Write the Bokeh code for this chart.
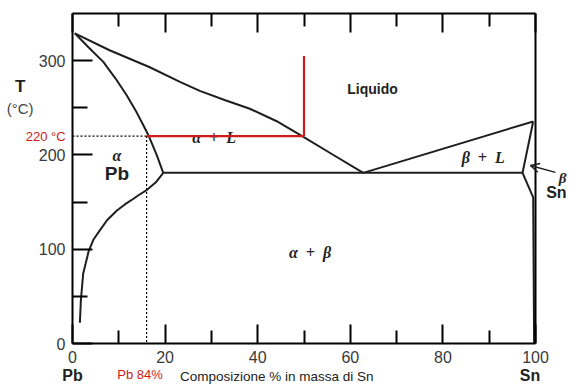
from bokeh.plotting import figure
from bokeh.models import LinearAxis, FixedTicker, Arrow, OpenHead, Range1d
from bokeh.core.properties import value
from bokeh.embed import file_html
from bokeh.resources import INLINE

# ---- data (composition in wt% Sn, temperature in °C) ----
liq_left_x = [0.5, 8, 16.7, 23.2, 27.5, 33, 38.3, 44, 49.6, 56, 62.8]
liq_left_t = [329, 311, 293, 277.5, 268, 258, 249, 236, 220, 201, 181]

sol_left_x = [0.5, 3.5, 6.65, 9.3, 11.7, 13.6, 15.3, 16.4, 18.2, 19.6]
sol_left_t = [329, 314, 298.7, 281, 263.3, 247.5, 231.5, 220.9, 199.7, 181]

solvus_left_x = [1.6, 1.8, 2.3, 3.5, 4.5, 5.9, 7.5, 9.6, 11.3, 13, 14.5, 16.1, 18, 19.6]
solvus_left_t = [22, 45, 74, 98, 110, 120, 131, 141, 147.5, 153, 158, 163, 171, 181]

eut_x = [19.6, 97.2]
eut_t = [181, 181]

liq_right_x = [62.8, 99.5]
liq_right_t = [181, 235.5]

sol_right_x = [99.5, 97.2]
sol_right_t = [235.5, 181]

solvus_right_x = [97.2, 99.5, 99.7]
solvus_right_t = [181, 155, 0]

alloy_x = 16          # Pb 84% -> 16% Sn
tie_t = 220           # 220 °C
liquid_x = 50         # liquid composition at 220 °C
red_top_t = 305

x_min, x_max = 0, 100
t_min, t_max = 0, 350
x_ticks = [0, 20, 40, 60, 80, 100]
x_minor = [10, 30, 50, 70, 90]
y_ticks = [0, 100, 200, 300]
y_minor = [50, 150, 250]

CURVE = "#1e1e1e"
RED = "#d11a1a"
SANS = "Liberation Sans"
SERIF = "Liberation Serif"

W, H = 569, 385
# pixel placement of the diagram box inside the canvas
box_l, box_r, box_t, box_b = 72, 535, 13, 343
sx = (box_r - box_l) / (x_max - x_min)
sy = (box_b - box_t) / (t_max - t_min)
xr = Range1d(x_min - box_l / sx, x_max + (W - box_r) / sx)
yr = Range1d(t_min - (H - box_b) / sy, t_max + box_t / sy)

p = figure(width=W, height=H, output_backend="svg", toolbar_location=None,
           x_range=xr, y_range=yr, x_axis_location=None, y_axis_location=None,
           min_border_left=0, min_border_right=0, min_border_top=0, min_border_bottom=0)
p.grid.visible = False
p.outline_line_color = None
p.background_fill_color = "white"
p.border_fill_color = "white"

xt = FixedTicker(ticks=x_ticks, minor_ticks=x_minor)
yt = FixedTicker(ticks=y_ticks, minor_ticks=y_minor)

def style_axis(ax, major_len, minor_len):
    ax.axis_line_color = "black"
    ax.axis_line_width = 2
    ax.major_tick_line_color = "black"
    ax.major_tick_line_width = 2
    ax.minor_tick_line_color = "black"
    ax.minor_tick_line_width = 2
    ax.major_tick_in = major_len
    ax.major_tick_out = 0
    ax.minor_tick_in = minor_len
    ax.minor_tick_out = 0
    ax.major_label_text_font = SANS
    ax.major_label_text_font_size = "16px"
    ax.major_label_text_color = "#3a3a3a"

bottom = LinearAxis(ticker=xt, fixed_location=t_min, bounds=(x_min, x_max))
style_axis(bottom, 19, 13)
bottom.major_label_standoff = 7
p.add_layout(bottom, "below")

top = LinearAxis(ticker=xt, fixed_location=t_max, bounds=(x_min, x_max))
style_axis(top, 19, 13)
top.major_label_overrides = {t: "" for t in x_ticks}
p.add_layout(top, "above")

left = LinearAxis(ticker=yt, fixed_location=x_min, bounds=(t_min, t_max))
style_axis(left, 20, 15)
left.major_label_standoff = 7
p.add_layout(left, "left")

right = LinearAxis(ticker=FixedTicker(ticks=[], minor_ticks=[]), fixed_location=x_max,
                   bounds=(t_min, t_max))
style_axis(right, 0, 0)
p.add_layout(right, "right")

def txt(x, y, s, size, color="#222222", style="normal", font=SANS, align="center"):
    p.text(x=[x], y=[y], text=[s], text_font=value(font), text_font_style=style,
           text_font_size=size, text_color=color, text_align=align, text_baseline="middle")

# ---- in-frame region labels (drawn below the red lines) ----
txt(64.8, 270, "Liquido", "14px", style="bold")
txt(9.6, 199, "α", "16px", style="bold italic", font=SERIF)
txt(9.6, 180, "Pb", "19px", style="bold")
txt(30.6, 218.5, "α\u00a0\u00a0+\u00a0\u00a0L", "16px", style="bold italic", font=SERIF)
txt(88.7, 197, "β\u00a0\u00a0+\u00a0\u00a0L", "16px", style="bold italic", font=SERIF)
txt(51.3, 96.5, "α\u00a0\u00a0+\u00a0\u00a0β", "16px", style="bold italic", font=SERIF)

# ---- phase boundaries ----
for xs, ts in [(liq_left_x, liq_left_t), (sol_left_x, sol_left_t),
               (solvus_left_x, solvus_left_t), (eut_x, eut_t),
               (liq_right_x, liq_right_t), (sol_right_x, sol_right_t),
               (solvus_right_x, solvus_right_t)]:
    p.line(xs, ts, line_color=CURVE, line_width=2)

# ---- dotted guide lines ----
p.line([x_min, alloy_x], [tie_t, tie_t], line_color="black", line_width=1.2, line_dash="2 2")
p.line([alloy_x, alloy_x], [tie_t, t_min], line_color="black", line_width=1.2, line_dash="2 2")

# ---- red tie line and vertical ----
p.line([alloy_x, liquid_x], [tie_t, tie_t], line_color=RED, line_width=2.2)
p.line([liquid_x, liquid_x], [tie_t, red_top_t], line_color=RED, line_width=2.2)

# ---- labels around the diagram ----
txt(-11.3, 272.5, "T", "17px", style="bold")
txt(-11.3, 249, "(°C)", "15px", color="#444444")
txt(-1.5, tie_t, "220 °C", "13px", color=RED, align="right")
txt(0, -34, "Pb", "16px", style="bold")
txt(14.6, -33, "Pb 84%", "13px", color=RED)
txt(23.2, -34.5, "Composizione % in massa di Sn", "13.5px", align="left")
txt(98.8, -34, "Sn", "16px", style="bold")
txt(102.3, 160, "Sn", "16px", style="bold", align="left")
txt(105.0, 176, "β", "15px", style="bold italic", font=SERIF, align="left")

p.add_layout(Arrow(end=OpenHead(size=9, line_width=1.5, line_color=CURVE),
                   x_start=104.3, y_start=181.5, x_end=98.9, y_end=188.8,
                   line_color=CURVE, line_width=1.5))

open("out.html", "w").write(file_html(p, INLINE))
